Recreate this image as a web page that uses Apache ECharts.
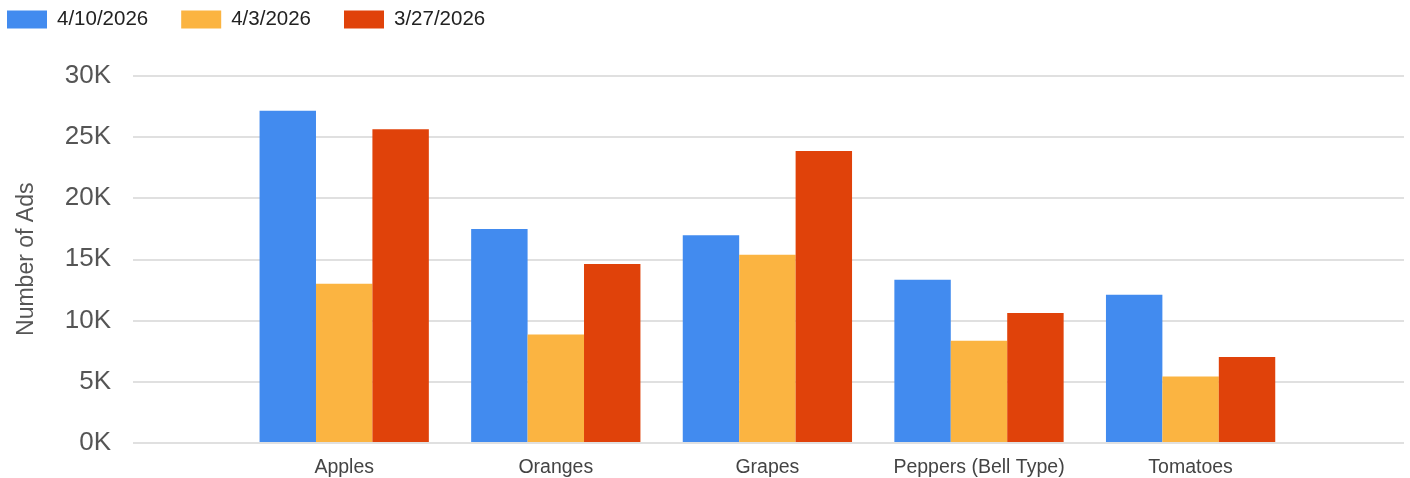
<!DOCTYPE html>
<html>
<head>
<meta charset="utf-8">
<script src="https://cdn.jsdelivr.net/npm/echarts@6/dist/echarts.min.js"></script>
<style>
html,body{margin:0;padding:0;background:#fff;}
#chart{width:1410px;height:478px;}
</style>
</head>
<body>
<div id="chart"></div>
<script>
const categories = ['Apples', 'Oranges', 'Grapes', 'Peppers (Bell Type)', 'Tomatoes'];
const seriesNames = ['4/10/2026', '4/3/2026', '3/27/2026'];
const week1 = [27150, 17450, 16950, 13300, 12070];
const week2 = [12970, 8820, 15340, 8300, 5360];
const week3 = [25630, 14600, 23850, 10570, 6970];
const colors = ['#428bef', '#fbb441', '#e0420a'];
const yMin = 0, yMax = 30000, yStep = 5000;

const font = "'Liberation Sans', Arial, sans-serif";
const chart = echarts.init(document.getElementById('chart'), null, {renderer: 'canvas'});
const vals = [week1, week2, week3];
chart.setOption({
  animation: false,
  color: colors,
  textStyle: {fontFamily: font},
  legend: {
    left: 7, top: 9, padding: 0,
    itemWidth: 40, itemHeight: 18, itemGap: 33,
    icon: 'rect',
    textStyle: {fontSize: 20.5, color: '#222', fontFamily: font, padding: [0, 0, 0, 5]},
    data: seriesNames
  },
  grid: [
    {left: 133, right: 6, top: 76, height: 366.5},
    {left: 238.4, width: 1058, top: 76, height: 366.5}
  ],
  xAxis: [
    {type: 'value', gridIndex: 0, show: false, min: 0, max: 1},
    {type: 'category', gridIndex: 1, data: categories,
     axisLine: {show: false}, axisTick: {show: false},
     axisLabel: {interval: 0, fontSize: 19.5, color: '#444', margin: 16, fontFamily: font}}
  ],
  yAxis: [
    {type: 'value', gridIndex: 0, min: yMin, max: yMax, interval: yStep,
     name: 'Number of Ads', nameLocation: 'middle', nameGap: 95,
     nameTextStyle: {fontSize: 23, color: '#555', fontFamily: font},
     axisLine: {show: false}, axisTick: {show: false},
     axisLabel: {fontSize: 26, color: '#555', margin: 22, fontFamily: font,
       formatter: v => (v / 1000) + 'K'},
     splitLine: {show: true, lineStyle: {color: '#e0e0e0', width: 2}}},
    {type: 'value', gridIndex: 1, min: yMin, max: yMax, interval: yStep, show: false,
     splitLine: {show: false}}
  ],
  series: seriesNames.map((n, i) => ({
    name: n, type: 'bar', xAxisIndex: 1, yAxisIndex: 1,
    data: vals[i], barGap: '0%', barCategoryGap: '20%',
    itemStyle: {color: colors[i]}
  }))
});
</script>
</body>
</html>
